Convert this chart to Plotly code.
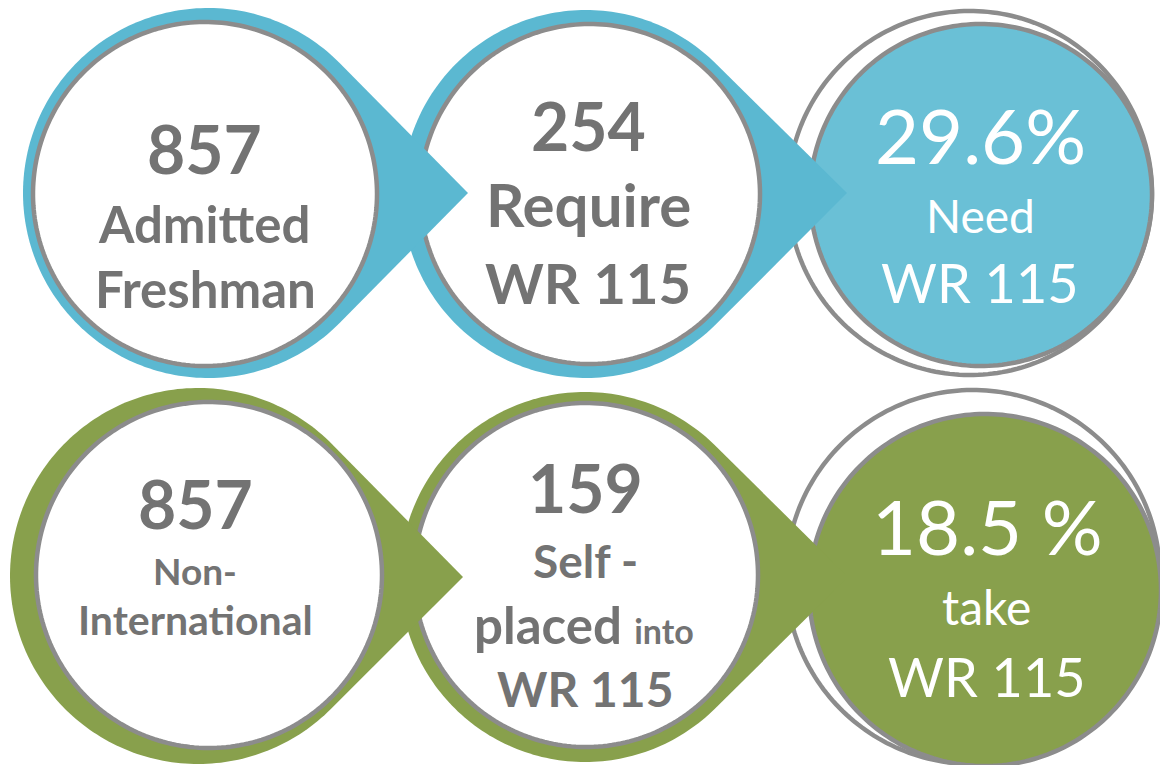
import numpy as np
import plotly.graph_objects as go

# ---- data ----
top_values = ["857", "254", "29.6%"]
top_labels = [["Admitted", "Freshman"], ["Require", "WR 115"], ["Need", "WR 115"]]
bottom_values = ["857", "159", "18.5 %"]
bottom_labels = [["Non-", "International"], ["Self -", "<b>placed</b> <span style='font-size:34px'><b>into</b></span>", "WR 115"], ["take", "WR 115"]]

BLUE = "#5BB8D1"
BLUE_FILL = "#6AC0D6"
GREEN = "#88A04C"
GRAY = "#8C8C8C"
TEXT = "#737373"
W, H = 1168, 765
OFF = 8  # page body margin


def circle_pts(cx, cy, r, a0=0, a1=2 * np.pi, n=180):
    t = np.linspace(a0, a1, n)
    return cx + r * np.cos(t), cy + r * np.sin(t)


def poly_path(xs, ys):
    s = "M %.2f,%.2f " % (xs[0], ys[0])
    s += " ".join("L %.2f,%.2f" % (x, y) for x, y in zip(xs[1:], ys[1:]))
    return s + " Z"


def teardrop(cx, cy, r, tx, ty):
    d = np.hypot(tx - cx, ty - cy)
    phi = np.arccos(r / d)
    base = np.arctan2(ty - cy, tx - cx)
    xs, ys = circle_pts(cx, cy, r, base + phi, base + 2 * np.pi - phi, 200)
    xs = np.append(xs, tx)
    ys = np.append(ys, ty)
    return poly_path(xs, ys)


def circ_path(cx, cy, r):
    xs, ys = circle_pts(cx, cy, r, 0, 2 * np.pi, 240)
    return poly_path(xs[:-1], ys[:-1])


shapes = []


def add_path(path, fill, line_color=None, lw=0):
    shapes.append(dict(type="path", path=path, xref="x", yref="y",
                       fillcolor=fill, line=dict(color=line_color or fill, width=lw), layer="above"))


# ---------- top row (drawn right to left) ----------
add_path(circ_path(970, 193, 182), "white", GRAY, 4.5)
add_path(circ_path(981, 195, 171), BLUE_FILL, GRAY, 4.5)
add_path(teardrop(586, 194, 184, 847, 193), BLUE)
add_path(circ_path(590, 194, 170), "white", GRAY, 4.5)
add_path(teardrop(208, 193, 185, 468, 193), BLUE)
add_path(circ_path(205, 194, 172), "white", GRAY, 4.5)

# ---------- bottom row ----------
add_path(circ_path(973, 577, 187), "white", GRAY, 4.5)
add_path(circ_path(985, 590, 176), GREEN, GRAY, 4.5)
add_path(teardrop(585, 577, 185, 848, 577), GREEN)
add_path(circ_path(586, 575, 172), "white", GRAY, 4.5)
add_path(teardrop(198, 576, 188, 463, 577), GREEN)
add_path(circ_path(209, 575, 173), "white", GRAY, 4.5)

ann = []
FONT = "Lato"


def txt(x, y, s, size, color=TEXT, bold=True):
    ann.append(dict(x=x, y=y, xref="x", yref="y", text=s, showarrow=False,
                    xanchor="center", yanchor="middle",
                    font=dict(family=FONT, size=size, color=color,
                              weight="bold" if bold else "normal")))


# top texts
txt(204, 148, top_values[0], 66)
txt(204, 223, top_labels[0][0], 51)
txt(205, 288, top_labels[0][1], 51)
txt(588, 125, top_values[1], 66)
txt(588, 204, top_labels[1][0], 60)
txt(588, 282, top_labels[1][1], 56)
txt(980, 134, top_values[2], 76, "white", False)
txt(980, 215, top_labels[2][0], 46, "white", False)
txt(980, 282, top_labels[2][1], 54, "white", False)

# bottom texts
txt(195, 503, bottom_values[0], 66)
txt(195, 570, bottom_labels[0][0], 37)
txt(195, 619, bottom_labels[0][1], 41)
txt(585, 487, bottom_values[1], 66)
txt(585, 560, bottom_labels[1][0], 46)
txt(584, 624, bottom_labels[1][1], 51)
txt(585, 688, bottom_labels[1][2], 48)
txt(987, 525, bottom_values[2], 76, "white", False)
txt(986, 606, bottom_labels[2][0], 48, "white", False)
txt(987, 676, bottom_labels[2][1], 54, "white", False)

fig = go.Figure()
fig.update_layout(
    width=W - OFF, height=H - OFF, margin=dict(l=0, r=0, t=0, b=0),
    paper_bgcolor="white", plot_bgcolor="white",
    xaxis=dict(range=[OFF, W], visible=False, fixedrange=True),
    yaxis=dict(range=[H, OFF], visible=False, fixedrange=True),
    shapes=shapes, annotations=ann, showlegend=False,
)
fig.write_html("out.html")
